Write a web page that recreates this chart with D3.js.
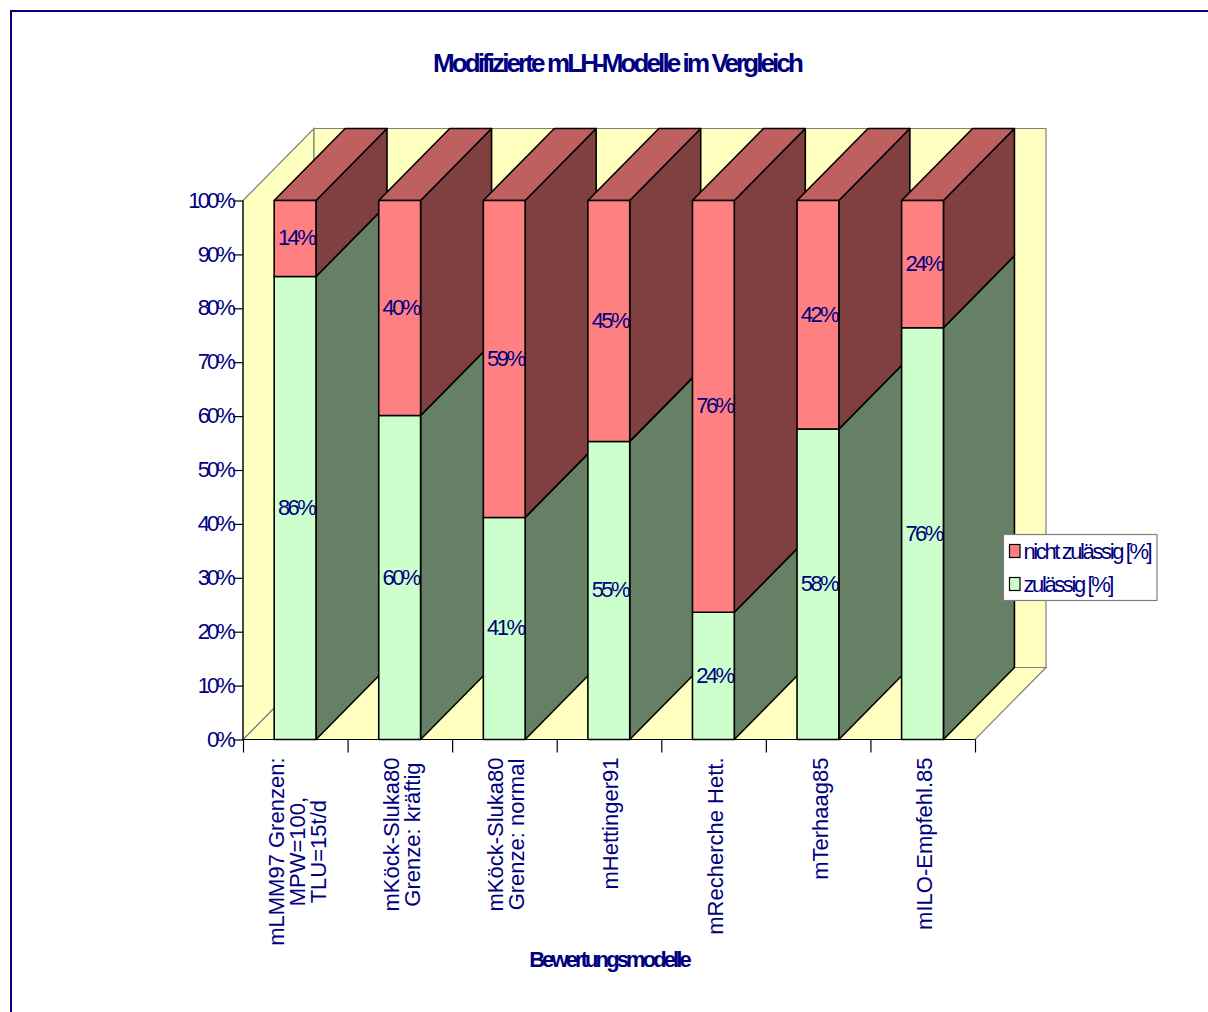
<!DOCTYPE html>
<html><head><meta charset="utf-8">
<script src="https://cdnjs.cloudflare.com/ajax/libs/d3/7.8.5/d3.min.js"></script>
<style>html,body{margin:0;padding:0;background:#fff;overflow:hidden}text{font-family:"Liberation Sans",Arial,sans-serif;fill:#000080}</style>
</head><body><svg id="c" width="1208" height="1012"></svg>
<script>
const categories = [["mLMM97 Grenzen:","MPW=100,","TLU=15t/d"],["mKöck-Sluka80","Grenze: kräftig"],["mKöck-Sluka80","Grenze: normal"],["mHettinger91"],["mRecherche Hett."],["mTerhaag85"],["mILO-Empfehl.85"]];
const zulaessig = [85.9,60.1,41.2,55.3,23.6,57.6,76.4];
const nichtZulaessig = [14.1,39.9,58.8,44.7,76.4,42.4,23.6];
const yTicks = [0,10,20,30,40,50,60,70,80,90,100];
const legendLabels = ["nicht zulässig [%]","zulässig [%]"];
const title = "Modifizierte mLH-Modelle im Vergleich";
const xTitle = "Bewertungsmodelle";

const svg = d3.select("#c");
const dx = 71, dy = -72, navy = "#000080";
const idx = d3.range(categories.length);
const x0 = 243, x1 = 975;
const x = d3.scaleBand().domain(idx).range([x0-0.2,x1-0.2]).paddingInner(0.6).paddingOuter(0.3);
const xb = d3.scaleBand().domain(idx).range([x0,x1]);
const y = d3.scaleLinear().domain([0,100]).range([739.5,200.5]);
const poly = (pts)=>pts.map(p=>p.join(",")).join(" ");

// frame
svg.append("path").attr("d","M11,1012V11H1208").attr("fill","none").attr("stroke",navy).attr("stroke-width",2);

// walls
const y0=y(0), y1=y(100);
const wall = {fill:"#FFFFC0",stroke:"#808080"};
[[[x0,y0],[x1,y0],[x1+dx,y0+dy],[x0+dx,y0+dy]],
 [[x0,y1],[x0+dx,y1+dy],[x0+dx,y0+dy],[x0,y0]],
 [[x0+dx,y1+dy],[x1+dx,y1+dy],[x1+dx,y0+dy],[x0+dx,y0+dy]]].forEach(p=>
  svg.append("polygon").attr("points",poly(p)).attr("fill",wall.fill).attr("stroke",wall.stroke).attr("stroke-width",1.2));

// bars
const segs = [
 {vals:zulaessig, base:()=>0, front:"#CCFFCC", side:"#668066", top:"#99BF99"},
 {vals:nichtZulaessig, base:i=>zulaessig[i], front:"#FF8080", side:"#804040", top:"#BF6060"}];
const bars = svg.append("g");
idx.forEach(i=>{
  const l=x(i), r=l+x.bandwidth();
  segs.forEach(s=>{
    const a=y(s.base(i)), b=y(s.base(i)+s.vals[i]);
    const g=bars.append("g").attr("stroke","#000").attr("stroke-width",1.6).attr("stroke-linejoin","round");
    g.append("polygon").attr("points",poly([[r,a],[r+dx,a+dy],[r+dx,b+dy],[r,b]])).attr("fill",s.side);
    g.append("polygon").attr("points",poly([[l,b],[r,b],[r+dx,b+dy],[l+dx,b+dy]])).attr("fill",s.top);
    g.append("rect").attr("x",l).attr("y",b).attr("width",r-l).attr("height",a-b).attr("fill",s.front);
  });
});
// data labels
segs.forEach(s=>{
  svg.append("g").selectAll("text").data(idx).join("text")
    .attr("x",i=>x(i)+x.bandwidth()/2+1).attr("y",i=>y(s.base(i)+s.vals[i]/2)+7)
    .attr("text-anchor","middle").attr("font-size",22).attr("letter-spacing",-2.6)
    .text(i=>d3.format(".0f")(s.vals[i])+"%");
});

// y axis
const ay = svg.append("g").attr("transform",`translate(${x0},0)`)
  .call(d3.axisLeft(y).tickValues(yTicks).tickSize(10).tickPadding(0).tickFormat(d=>d+"%"));
ay.selectAll("path,line").attr("stroke","#000").attr("stroke-width",1.2);
ay.select("path").attr("d",`M0,${y0}V${y1}`);
ay.selectAll("text").attr("font-size",22).attr("letter-spacing",-2.9).attr("font-family",null).attr("fill",null).attr("dy","0.30em");

// x axis
const ax = svg.append("g").attr("transform",`translate(0,${y0})`)
  .call(d3.axisBottom(d3.scaleLinear().domain([0,categories.length]).range([x0,x1])).tickValues(d3.range(categories.length+1)).tickSize(13).tickFormat(""));
ax.selectAll("path,line").attr("stroke","#000").attr("stroke-width",1.2);
ax.select("path").attr("d",`M${x0},0H${x1}`);

// category labels
const fs=22, lh=21, topY=757.5;
const cats = svg.append("g");
categories.forEach((lines,i)=>{
  const cx = xb(i)+xb.bandwidth()/2;
  const ts = lines.map(t=>cats.append("text").attr("font-size",fs).attr("text-anchor","middle").text(t));
  const w = d3.max(ts,t=>t.node().getComputedTextLength());
  ts.forEach((t,j)=>{
    const bx = cx + 9.4 - (lines.length-1)*lh/2 + j*lh;
    t.attr("transform",`translate(${bx},${topY+w/2}) rotate(-90)`);
  });
});

// titles
svg.append("text").attr("x",617).attr("y",71.5).attr("text-anchor","middle").attr("font-size",26).attr("font-weight","bold").attr("letter-spacing",-2.9).text(title);
svg.append("text").attr("x",609).attr("y",967).attr("text-anchor","middle").attr("font-size",22).attr("font-weight","bold").attr("letter-spacing",-2.9).text(xTitle);

// legend
const lg = svg.append("g");
lg.append("rect").attr("x",1003.5).attr("y",534.5).attr("width",153.5).attr("height",66).attr("fill","#fff").attr("stroke","#808080").attr("stroke-width",1.2);
const legendColors=["#FF8080","#CCFFCC"];
legendLabels.forEach((t,i)=>{
  const yy=[544.5,577.5][i];
  lg.append("rect").attr("x",1009.5).attr("y",yy).attr("width",10.5).attr("height",13).attr("fill",legendColors[i]).attr("stroke","#000").attr("stroke-width",1.2);
  lg.append("text").attr("x",1023.5).attr("y",yy+14.5).attr("font-size",22).attr("letter-spacing",-2.4).text(t);
});
</script></body></html>
